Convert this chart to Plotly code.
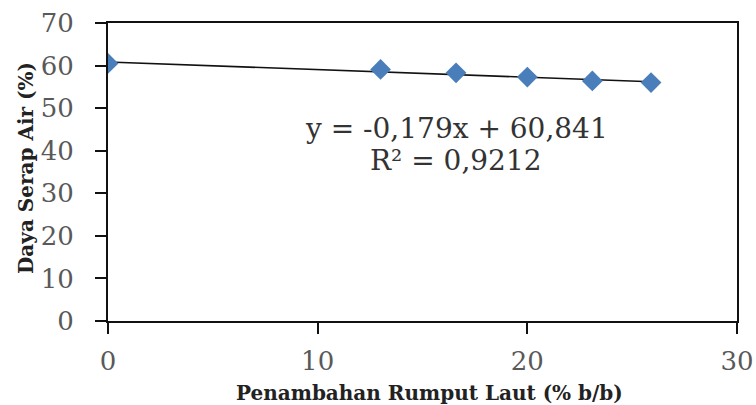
import plotly.graph_objects as go

# Water absorption vs. seaweed addition
rumput_laut = [0, 13.0, 16.6, 20.0, 23.1, 25.9]      # % b/b
daya_serap = [60.5, 59.1, 58.3, 57.3, 56.4, 56.0]    # %

# Linear trendline parameters
slope = -0.179
intercept = 60.841
r_squared = 0.9212

x_ticks = [0, 10, 20, 30]
y_ticks = [0, 10, 20, 30, 40, 50, 60, 70]

x_title = "Penambahan Rumput Laut (% b/b)"
y_title = "Daya Serap Air (%)"


def fmt(v, nd):
    return f"{v:.{nd}f}".replace(".", ",")


trend_x = [min(rumput_laut), max(rumput_laut)]
trend_y = [slope * v + intercept for v in trend_x]

fig = go.Figure()

fig.add_trace(go.Scatter(
    x=trend_x, y=trend_y, mode="lines",
    line=dict(color="#111111", width=1.6),
    hoverinfo="skip", showlegend=False,
))

fig.add_trace(go.Scatter(
    x=rumput_laut, y=daya_serap, mode="markers",
    marker=dict(symbol="diamond", size=16, color="#4a7ebb",
                line=dict(width=0)),
    showlegend=False,
))

sign = "-" if slope < 0 else ""
eq_text = f"y = {sign}{fmt(abs(slope), 3)}x + {fmt(intercept, 3)}"
r2_text = f"R² = {fmt(r_squared, 4)}"

eq_font = dict(family="DejaVu Serif", size=28, color="#333333")
fig.add_annotation(x=16.6, y=45.3, text=eq_text, showarrow=False,
                   xanchor="center", yanchor="middle", font=eq_font)
fig.add_annotation(x=16.6, y=37.6, text=r2_text, showarrow=False,
                   xanchor="center", yanchor="middle", font=eq_font)

title_font = dict(family="DejaVu Serif", size=20, color="#222222",
                  weight="bold")
fig.add_annotation(xref="paper", yref="paper", x=0.5, y=0,
                   xshift=7, yshift=-72, text=x_title, showarrow=False,
                   xanchor="center", yanchor="middle", font=title_font)
fig.add_annotation(xref="paper", yref="paper", x=0, y=0.5,
                   xshift=-82, yshift=4, text=y_title, showarrow=False,
                   textangle=-90, xanchor="center", yanchor="middle",
                   font=dict(title_font, size=20))

axis_common = dict(
    showline=True, linecolor="#111111", linewidth=2, mirror=True,
    ticks="outside", ticklen=11, tickwidth=2, tickcolor="#111111",
    showgrid=False, zeroline=False, automargin=False,
    tickfont=dict(family="DejaVu Serif", size=26, color="#595959"),
)

fig.update_xaxes(range=[0, 30], tickvals=x_ticks, ticklabelstandoff=5,
                 **axis_common)
fig.update_yaxes(range=[0, 70], tickvals=y_ticks, ticklabelstandoff=16,
                 **axis_common)

fig.update_layout(
    width=756, height=405,
    margin=dict(l=108, r=19, t=23, b=84),
    plot_bgcolor="white", paper_bgcolor="white",
)

fig.write_html("out.html")
